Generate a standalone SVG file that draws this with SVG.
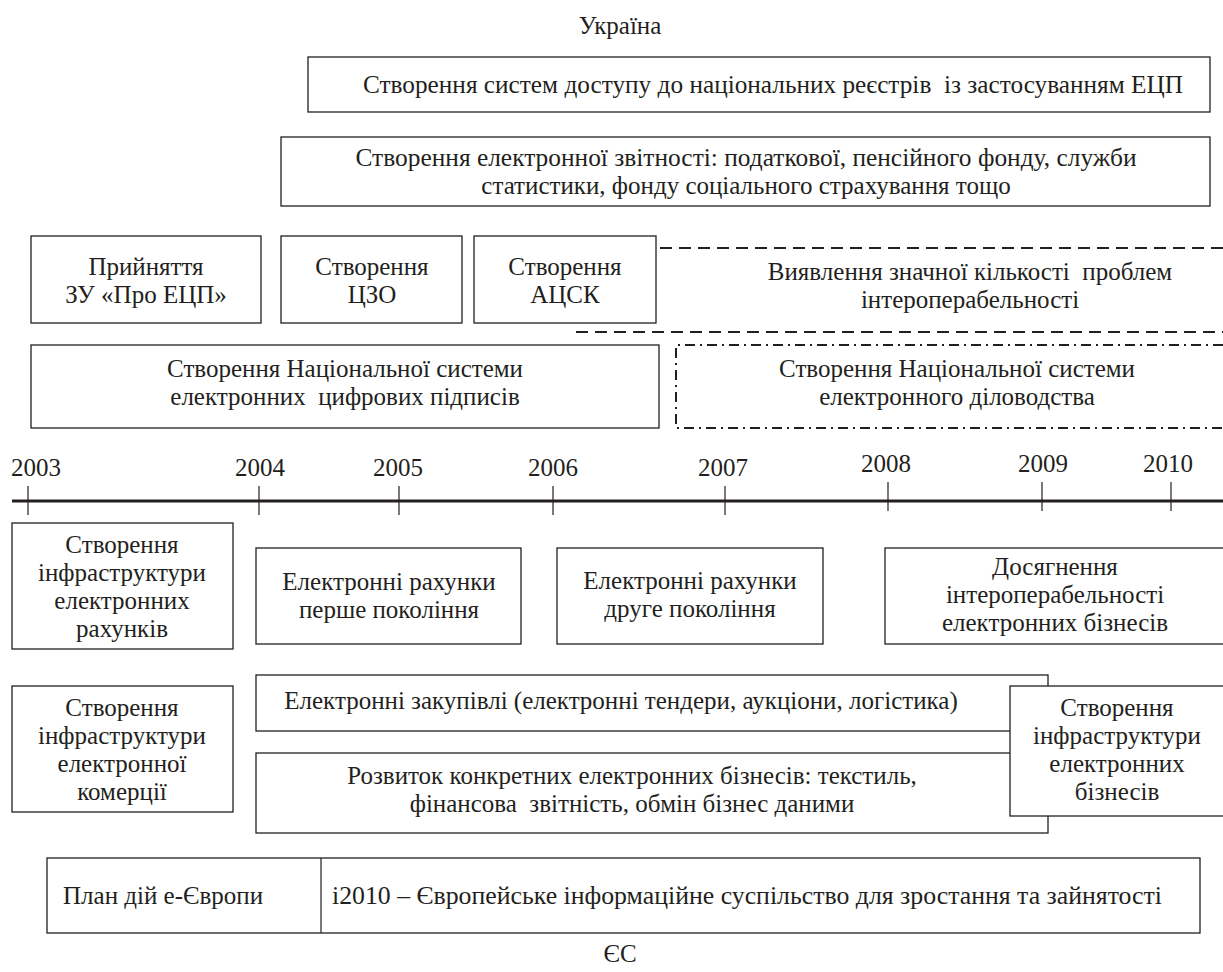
<svg xmlns="http://www.w3.org/2000/svg" width="1223" height="972" viewBox="0 0 1223 972">
<defs>
<rect id="bg" width="1223" height="972" fill="#fff"/>
</defs>
<use href="#bg"/>
<g font-family="Liberation Serif, serif" font-size="25" fill="#231f20" text-anchor="middle">
<text font-family="Liberation Serif, serif" x="620" y="34">Україна</text>
<g id="n1"><rect x="308" y="57" width="902" height="55" fill="#fff" stroke="#231f20" stroke-width="1.3"/><text font-family="Liberation Serif, serif" x="773" y="93" textLength="820" lengthAdjust="spacingAndGlyphs" xml:space="preserve">Створення систем доступу до національних реєстрів  із застосуванням ЕЦП</text></g>
<g id="n2"><rect x="281" y="137" width="929" height="69" fill="#fff" stroke="#231f20" stroke-width="1.3"/><text font-family="Liberation Serif, serif" x="746" y="166" textLength="781" lengthAdjust="spacingAndGlyphs">Створення електронної звітності: податкової, пенсійного фонду, служби</text><text font-family="Liberation Serif, serif" x="746" y="194">статистики, фонду соціального страхування тощо</text></g>
<g id="n3"><rect x="31" y="236" width="230" height="87" fill="#fff" stroke="#231f20" stroke-width="1.3"/><text font-family="Liberation Serif, serif" x="146" y="275">Прийняття</text><text font-family="Liberation Serif, serif" x="146" y="303">ЗУ «Про ЕЦП»</text></g>
<g id="n4"><rect x="281" y="236" width="181" height="87" fill="#fff" stroke="#231f20" stroke-width="1.3"/><text font-family="Liberation Serif, serif" x="372" y="275">Створення</text><text font-family="Liberation Serif, serif" x="372" y="303">ЦЗО</text></g>
<g id="n5"><rect x="474" y="236" width="182" height="87" fill="#fff" stroke="#231f20" stroke-width="1.3"/><text font-family="Liberation Serif, serif" x="565" y="275">Створення</text><text font-family="Liberation Serif, serif" x="565" y="303">АЦСК</text></g>
<g id="n6"><g fill="none" stroke="#231f20" stroke-width="2.2" stroke-dasharray="12 7"><line x1="660" y1="248" x2="1223" y2="248"/><line x1="576" y1="332" x2="1223" y2="332"/></g><text font-family="Liberation Serif, serif" x="970" y="280" xml:space="preserve">Виявлення значної кількості  проблем</text><text font-family="Liberation Serif, serif" x="970" y="308">інтероперабельності</text></g>
<g id="n7"><rect x="31" y="345" width="628" height="83" fill="#fff" stroke="#231f20" stroke-width="1.3"/><text font-family="Liberation Serif, serif" x="345" y="377">Створення Національної системи</text><text font-family="Liberation Serif, serif" x="345" y="405" xml:space="preserve">електронних  цифрових підписів</text></g>
<g id="n8"><path d="M1223 345 H676 V428 H1223" fill="none" stroke="#231f20" stroke-width="2" stroke-dasharray="10 5 2 5"/><text font-family="Liberation Serif, serif" x="957" y="377">Створення Національної системи</text><text font-family="Liberation Serif, serif" x="957" y="405">електронного діловодства</text></g>
<g id="timeline">
<line x1="12" y1="501" x2="1223" y2="501" stroke="#231f20" stroke-width="3"/>
<g stroke="#231f20" stroke-width="1.2">
<line x1="28" y1="486" x2="28" y2="515"/>
<line x1="259" y1="486" x2="259" y2="515"/>
<line x1="399" y1="486" x2="399" y2="515"/>
<line x1="553" y1="486" x2="553" y2="515"/>
<line x1="725" y1="486" x2="725" y2="515"/>
<line x1="888" y1="482" x2="888" y2="511"/>
<line x1="1042" y1="482" x2="1042" y2="511"/>
<line x1="1171" y1="482" x2="1171" y2="511"/>
</g>
<text font-family="Liberation Serif, serif" x="36" y="476">2003</text><text font-family="Liberation Serif, serif" x="260" y="476">2004</text><text font-family="Liberation Serif, serif" x="398" y="476">2005</text><text font-family="Liberation Serif, serif" x="553" y="476">2006</text><text font-family="Liberation Serif, serif" x="723" y="476">2007</text><text font-family="Liberation Serif, serif" x="886" y="472">2008</text><text font-family="Liberation Serif, serif" x="1043" y="472">2009</text><text font-family="Liberation Serif, serif" x="1168" y="472">2010</text>
</g>
<g id="n9"><rect x="12" y="523" width="221" height="126" fill="#fff" stroke="#231f20" stroke-width="1.3"/><text font-family="Liberation Serif, serif" x="122" y="553">Створення</text><text font-family="Liberation Serif, serif" x="122" y="581">інфраструктури</text><text font-family="Liberation Serif, serif" x="122" y="609">електронних</text><text font-family="Liberation Serif, serif" x="122" y="637">рахунків</text></g>
<g id="n10"><rect x="256" y="548" width="265" height="96" fill="#fff" stroke="#231f20" stroke-width="1.3"/><text font-family="Liberation Serif, serif" x="389" y="590">Електронні рахунки</text><text font-family="Liberation Serif, serif" x="389" y="618">перше покоління</text></g>
<g id="n11"><rect x="557" y="548" width="266" height="96" fill="#fff" stroke="#231f20" stroke-width="1.3"/><text font-family="Liberation Serif, serif" x="690" y="589">Електронні рахунки</text><text font-family="Liberation Serif, serif" x="690" y="617">друге покоління</text></g>
<g id="n12"><rect x="885" y="548" width="345" height="96" fill="#fff" stroke="#231f20" stroke-width="1.3"/><text font-family="Liberation Serif, serif" x="1055" y="575">Досягнення</text><text font-family="Liberation Serif, serif" x="1055" y="603">інтероперабельності</text><text font-family="Liberation Serif, serif" x="1055" y="631">електронних бізнесів</text></g>
<g id="n13"><rect x="12" y="686" width="221" height="126" fill="#fff" stroke="#231f20" stroke-width="1.3"/><text font-family="Liberation Serif, serif" x="122" y="716">Створення</text><text font-family="Liberation Serif, serif" x="122" y="744">інфраструктури</text><text font-family="Liberation Serif, serif" x="122" y="772">електронної</text><text font-family="Liberation Serif, serif" x="122" y="800">комерції</text></g>
<g id="n14"><rect x="256" y="675" width="792" height="56" fill="#fff" stroke="#231f20" stroke-width="1.3"/><text font-family="Liberation Serif, serif" x="621" y="709">Електронні закупівлі (електронні тендери, аукціони, логістика)</text></g>
<g id="n15"><rect x="256" y="753" width="792" height="80" fill="#fff" stroke="#231f20" stroke-width="1.3"/><text font-family="Liberation Serif, serif" x="632" y="784">Розвиток конкретних електронних бізнесів: текстиль,</text><text font-family="Liberation Serif, serif" x="632" y="812" xml:space="preserve">фінансова  звітність, обмін бізнес даними</text></g>
<g id="n16"><rect x="1010" y="686" width="220" height="130" fill="#fff" stroke="#231f20" stroke-width="1.3"/><text font-family="Liberation Serif, serif" x="1117" y="716">Створення</text><text font-family="Liberation Serif, serif" x="1117" y="744">інфраструктури</text><text font-family="Liberation Serif, serif" x="1117" y="772">електронних</text><text font-family="Liberation Serif, serif" x="1117" y="800">бізнесів</text></g>
<g id="n17"><rect x="47" y="858" width="1153" height="75" fill="#fff" stroke="#231f20" stroke-width="1.3"/><line x1="321" y1="858" x2="321" y2="933" stroke="#231f20" stroke-width="1.2"/><text font-family="Liberation Serif, serif" text-anchor="start" x="63" y="904">План дій е-Європи</text><text font-family="Liberation Serif, serif" text-anchor="start" x="332" y="904" textLength="830" lengthAdjust="spacingAndGlyphs">і2010 – Європейське інформаційне суспільство для зростання та зайнятості</text></g>
<text font-family="Liberation Serif, serif" x="620" y="962">ЄС</text>
</g>
</svg>
